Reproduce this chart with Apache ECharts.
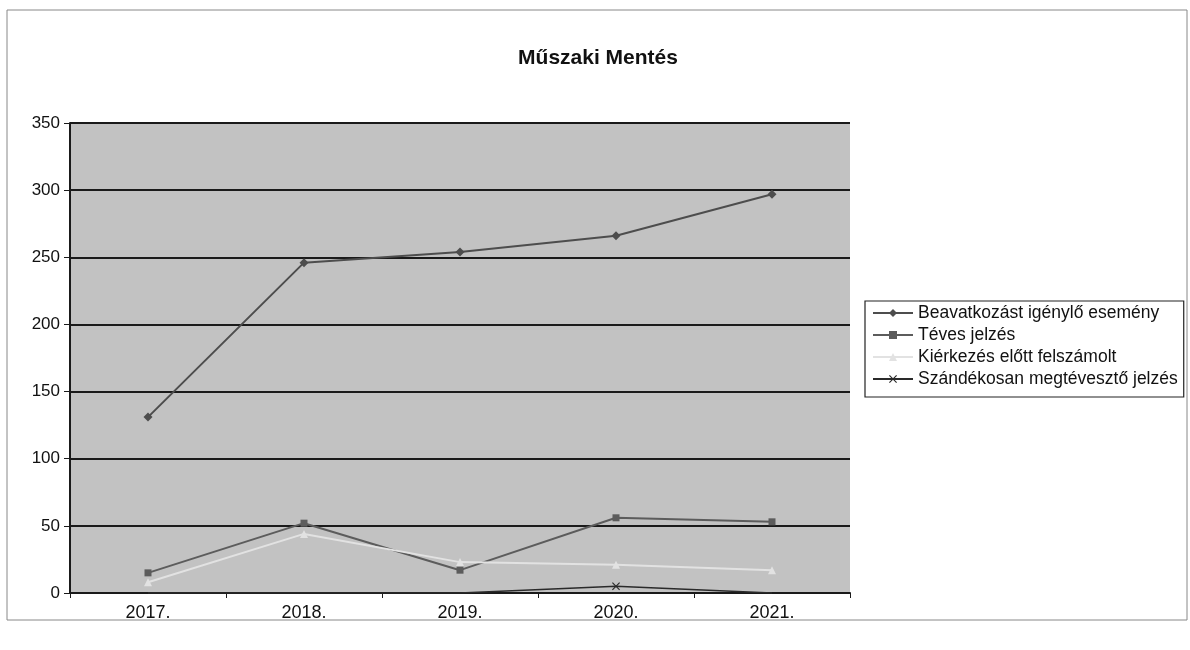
<!DOCTYPE html>
<html>
<head>
<meta charset="utf-8">
<script src="https://cdn.jsdelivr.net/npm/echarts@6/dist/echarts.min.js"></script>
<style>
  html, body { margin: 0; padding: 0; background: #fff; }
  #chart { width: 1190px; height: 650px; }
</style>
</head>
<body>
<div id="chart"></div>
<script>
// adatok
const years = ['2017.', '2018.', '2019.', '2020.', '2021.']
const beavatkozas = [131, 246, 254, 266, 297]
const teves = [15, 52, 17, 56, 53]
const kierkezes = [8, 44, 23, 21, 17]
const szandekos = [0, 0, 0, 5, 0]
const yTicks = { min: 0, max: 350, step: 50 }

const crossSymbol = 'path://M1,0L5,4L9,0L10,1L6,5L10,9L9,10L5,6L1,10L0,9L4,5L0,1Z'

const chart = echarts.init(document.getElementById('chart'))

function lineSeries(name, data, color, symbol, size, width) {
  return {
    name: name,
    type: 'line',
    data: data,
    symbol: symbol,
    symbolSize: size,
    showAllSymbol: true,
    lineStyle: { color: color, width: width },
    itemStyle: { color: color },
    emphasis: { disabled: true }
  }
}

const option = {
  backgroundColor: '#fff',
  animation: false,
  title: {
    text: 'Műszaki Mentés',
    left: 593,
    textAlign: 'center',
    top: 43,
    textStyle: { fontFamily: 'Liberation Sans', fontSize: 21, fontWeight: 'bold', color: '#111' }
  },
  graphic: [{
    type: 'rect',
    shape: { x: 7, y: 10, width: 1180, height: 610 },
    style: { fill: 'none', stroke: '#888', lineWidth: 1 },
    silent: true
  }],
  legend: {
    orient: 'vertical',
    left: 865,
    top: 301,
    padding: [3, 6, 9, 7],
    itemGap: 4,
    itemWidth: 40,
    itemHeight: 10,
    borderColor: '#222',
    borderWidth: 1.2,
    textStyle: { fontFamily: 'Liberation Sans', fontSize: 17.5, color: '#111' },
    data: ['Beavatkozást igénylő esemény', 'Téves jelzés', 'Kiérkezés előtt felszámolt', 'Szándékosan megtévesztő jelzés']
  },
  grid: { left: 70, right: 340, top: 123, bottom: 57, show: true, backgroundColor: '#c2c2c2', borderWidth: 0 },
  xAxis: {
    type: 'category',
    data: years,
    boundaryGap: true,
    axisLine: { lineStyle: { color: '#1a1a1a', width: 2 } },
    axisTick: { show: true, interval: 0, length: 5, lineStyle: { color: '#1a1a1a' } },
    axisLabel: { fontFamily: 'Liberation Sans', fontSize: 18, color: '#111', margin: 11 }
  },
  yAxis: {
    type: 'value',
    min: yTicks.min,
    max: yTicks.max,
    interval: yTicks.step,
    axisLine: { show: true, lineStyle: { color: '#1a1a1a', width: 2 } },
    axisTick: { show: true, length: 6, lineStyle: { color: '#1a1a1a' } },
    axisLabel: { fontFamily: 'Liberation Sans', fontSize: 17, color: '#111', margin: 10 },
    splitLine: { show: true, lineStyle: { color: '#1a1a1a', width: 2 } }
  },
  series: [
    lineSeries('Beavatkozást igénylő esemény', beavatkozas, '#4d4d4d', 'diamond', 9, 2),
    lineSeries('Téves jelzés', teves, '#5c5c5c', 'rect', 7, 2),
    lineSeries('Kiérkezés előtt felszámolt', kierkezes, '#e2e2e2', 'triangle', 8, 2),
    lineSeries('Szándékosan megtévesztő jelzés', szandekos, '#2a2a2a', crossSymbol,
      function (v) { return v > 0 ? 8 : 0 }, 1.5)
  ]
}

chart.setOption(option)
</script>
</body>
</html>
